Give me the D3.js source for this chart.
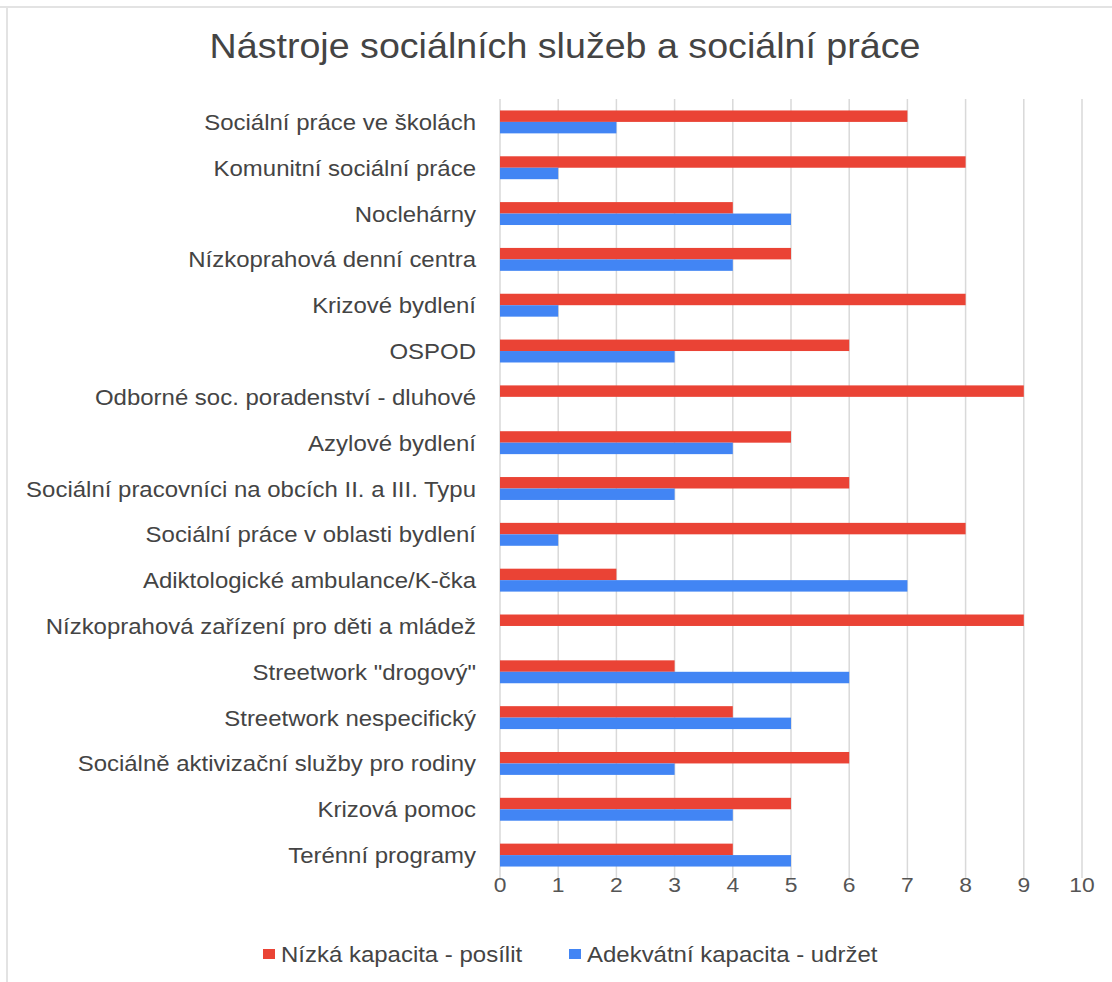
<!DOCTYPE html>
<html>
<head>
<meta charset="utf-8">
<script src="https://d3js.org/d3.v7.min.js"></script>
<style>
  body { margin: 0; background: #fff; }
  text { font-family: "Liberation Sans", Arial, sans-serif; }
</style>
</head>
<body>
<div id="chart"></div>
<script>
// categories and series, top to bottom as in the chart
var categories = [
  "Sociální práce ve školách",
  "Komunitní sociální práce",
  "Noclehárny",
  "Nízkoprahová denní centra",
  "Krizové bydlení",
  "OSPOD",
  "Odborné soc. poradenství - dluhové",
  "Azylové bydlení",
  "Sociální pracovníci na obcích II. a III. Typu",
  "Sociální práce v oblasti bydlení",
  "Adiktologické ambulance/K-čka",
  "Nízkoprahová zařízení pro děti a mládež",
  "Streetwork \"drogový\"",
  "Streetwork nespecifický",
  "Sociálně aktivizační služby pro rodiny",
  "Krizová pomoc",
  "Terénní programy"
]
var nizka = [7, 8, 4, 5, 8, 6, 9, 5, 6, 8, 2, 9, 3, 4, 6, 5, 4]
var adekvatni = [2, 1, 5, 4, 1, 3, 0, 4, 3, 1, 7, 0, 6, 5, 3, 4, 5]
var seriesNames = ["Nízká kapacita - posílit", "Adekvátní kapacita - udržet"]
var ticks = [0, 1, 2, 3, 4, 5, 6, 7, 8, 9, 10]

var width = 1112,
    height = 982
var margin = {top: 99, left: 500, right: 30, bottom: 104}
var colors = ["#ea4335", "#4285f4"]
var stretch = 1.09   // the screenshot text is a bit wider than Liberation Sans

var svg = d3.select("#chart")
  .append("svg")
    .attr("width", width)
    .attr("height", height)

// faint frame on top and left, like the screenshot
svg.append("line").attr("x1", 0).attr("x2", width).attr("y1", 7).attr("y2", 7)
  .attr("stroke", "#e3e3e3").attr("stroke-width", 2)
svg.append("line").attr("x1", 7).attr("x2", 7).attr("y1", 7).attr("y2", height)
  .attr("stroke", "#e3e3e3").attr("stroke-width", 2)

svg.append("text")
  .attr("transform", "translate(565,58) scale(1.075,1)")
  .attr("text-anchor", "middle")
  .style("font-size", "35px")
  .style("fill", "#444")
  .text("Nástroje sociálních služeb a sociální práce")

var x = d3.scaleLinear()
  .domain([0, 10])
  .range([margin.left, 1082])

var y = d3.scaleBand()
  .domain(categories)
  .range([margin.top, 878])
  .paddingInner(0.5)
  .paddingOuter(0.25)

var sub = d3.scaleBand()
  .domain([0, 1])
  .range([0, y.bandwidth()])

// vertical gridlines
svg.append("g")
  .selectAll("line")
  .data(ticks)
  .enter()
  .append("line")
    .attr("x1", function(d) { return x(d) })
    .attr("x2", function(d) { return x(d) })
    .attr("y1", margin.top)
    .attr("y2", 878)
    .attr("stroke", "#d9d9d9")
    .attr("stroke-width", 1.5)

// tick labels
svg.append("g")
  .selectAll("text")
  .data(ticks)
  .enter()
  .append("text")
    .attr("transform", function(d) { return "translate(" + x(d) + ",892) scale(" + stretch + ",1)" })
    .attr("text-anchor", "middle")
    .style("font-size", "21px")
    .style("fill", "#555")
    .text(function(d) { return d })

// category labels
svg.append("g")
  .selectAll("text")
  .data(categories)
  .enter()
  .append("text")
    .attr("transform", function(d) { return "translate(476," + (y(d) + y.bandwidth() / 2 + 8) + ") scale(" + stretch + ",1)" })
    .attr("text-anchor", "end")
    .style("font-size", "22px")
    .style("fill", "#444")
    .text(function(d) { return d })

var series = [nizka, adekvatni]
series.forEach(function(vals, s) {
  svg.append("g")
    .selectAll("rect")
    .data(vals)
    .enter()
    .append("rect")
      .attr("x", x(0))
      .attr("y", function(d, i) { return y(categories[i]) + sub(s) })
      .attr("width", function(d) { return x(d) - x(0) })
      .attr("height", sub.bandwidth())
      .attr("fill", colors[s])
})

// legend
var legendX = [263, 569]
var legend = svg.append("g")
  .selectAll("g")
  .data(seriesNames)
  .enter()
  .append("g")
    .attr("transform", function(d, i) { return "translate(" + legendX[i] + ",954)" })
legend.append("rect")
  .attr("x", 0).attr("y", -5)
  .attr("width", 12).attr("height", 10)
  .attr("fill", function(d, i) { return colors[i] })
legend.append("text")
  .attr("transform", "translate(18,8) scale(" + stretch + ",1)")
  .style("font-size", "22px")
  .style("fill", "#444")
  .text(function(d) { return d })
</script>
</body>
</html>
